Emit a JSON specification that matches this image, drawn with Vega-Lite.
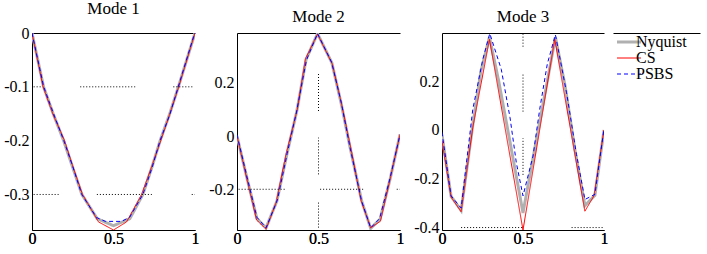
{
  "$schema": "https://vega.github.io/schema/vega-lite/v6.json",
  "padding": {"left": 3, "top": 0, "right": 2, "bottom": 2},
  "spacing": 42,
  "bounds": "flush",
  "datasets": {
    "curves": [
      {"m":1,"s":"Nyquist","x":0,"y":0},{"m":1,"s":"Nyquist","x":0.071,"y":-0.1},{"m":1,"s":"Nyquist","x":0.13,"y":-0.15},{"m":1,"s":"Nyquist","x":0.194,"y":-0.2},{"m":1,"s":"Nyquist","x":0.25,"y":-0.25},{"m":1,"s":"Nyquist","x":0.306,"y":-0.3},{"m":1,"s":"Nyquist","x":0.4,"y":-0.345},{"m":1,"s":"Nyquist","x":0.5,"y":-0.358},{"m":1,"s":"Nyquist","x":0.6,"y":-0.345},{"m":1,"s":"Nyquist","x":0.68,"y":-0.3},{"m":1,"s":"Nyquist","x":0.735,"y":-0.25},{"m":1,"s":"Nyquist","x":0.786,"y":-0.2},{"m":1,"s":"Nyquist","x":0.845,"y":-0.15},{"m":1,"s":"Nyquist","x":0.898,"y":-0.1},{"m":1,"s":"Nyquist","x":1,"y":0},
      {"m":1,"s":"CS","x":0,"y":0},{"m":1,"s":"CS","x":0.068,"y":-0.1},{"m":1,"s":"CS","x":0.13,"y":-0.152},{"m":1,"s":"CS","x":0.2,"y":-0.2},{"m":1,"s":"CS","x":0.255,"y":-0.252},{"m":1,"s":"CS","x":0.31,"y":-0.3},{"m":1,"s":"CS","x":0.408,"y":-0.351},{"m":1,"s":"CS","x":0.5,"y":-0.366},{"m":1,"s":"CS","x":0.58,"y":-0.351},{"m":1,"s":"CS","x":0.672,"y":-0.3},{"m":1,"s":"CS","x":0.73,"y":-0.252},{"m":1,"s":"CS","x":0.79,"y":-0.2},{"m":1,"s":"CS","x":0.848,"y":-0.148},{"m":1,"s":"CS","x":0.9,"y":-0.1},{"m":1,"s":"CS","x":1,"y":0},
      {"m":1,"s":"PSBS","x":0,"y":0},{"m":1,"s":"PSBS","x":0.072,"y":-0.1},{"m":1,"s":"PSBS","x":0.13,"y":-0.148},{"m":1,"s":"PSBS","x":0.195,"y":-0.2},{"m":1,"s":"PSBS","x":0.25,"y":-0.248},{"m":1,"s":"PSBS","x":0.305,"y":-0.3},{"m":1,"s":"PSBS","x":0.397,"y":-0.343},{"m":1,"s":"PSBS","x":0.45,"y":-0.35},{"m":1,"s":"PSBS","x":0.5,"y":-0.35},{"m":1,"s":"PSBS","x":0.55,"y":-0.35},{"m":1,"s":"PSBS","x":0.6,"y":-0.342},{"m":1,"s":"PSBS","x":0.68,"y":-0.3},{"m":1,"s":"PSBS","x":0.737,"y":-0.25},{"m":1,"s":"PSBS","x":0.785,"y":-0.2},{"m":1,"s":"PSBS","x":0.845,"y":-0.152},{"m":1,"s":"PSBS","x":0.897,"y":-0.1},{"m":1,"s":"PSBS","x":1,"y":0.002},

      {"m":2,"s":"Nyquist","x":0,"y":0},{"m":2,"s":"Nyquist","x":0.06,"y":-0.155},{"m":2,"s":"Nyquist","x":0.122,"y":-0.31},{"m":2,"s":"Nyquist","x":0.178,"y":-0.345},{"m":2,"s":"Nyquist","x":0.245,"y":-0.244},{"m":2,"s":"Nyquist","x":0.306,"y":-0.069},{"m":2,"s":"Nyquist","x":0.367,"y":0.094},{"m":2,"s":"Nyquist","x":0.424,"y":0.288},{"m":2,"s":"Nyquist","x":0.494,"y":0.385},{"m":2,"s":"Nyquist","x":0.582,"y":0.275},{"m":2,"s":"Nyquist","x":0.64,"y":0.12},{"m":2,"s":"Nyquist","x":0.694,"y":-0.044},{"m":2,"s":"Nyquist","x":0.765,"y":-0.244},{"m":2,"s":"Nyquist","x":0.82,"y":-0.347},{"m":2,"s":"Nyquist","x":0.878,"y":-0.312},{"m":2,"s":"Nyquist","x":0.94,"y":-0.16},{"m":2,"s":"Nyquist","x":1,"y":0.006},
      {"m":2,"s":"CS","x":0,"y":0},{"m":2,"s":"CS","x":0.06,"y":-0.16},{"m":2,"s":"CS","x":0.12,"y":-0.315},{"m":2,"s":"CS","x":0.178,"y":-0.35},{"m":2,"s":"CS","x":0.24,"y":-0.25},{"m":2,"s":"CS","x":0.3,"y":-0.07},{"m":2,"s":"CS","x":0.37,"y":0.1},{"m":2,"s":"CS","x":0.42,"y":0.29},{"m":2,"s":"CS","x":0.494,"y":0.383},{"m":2,"s":"CS","x":0.585,"y":0.27},{"m":2,"s":"CS","x":0.645,"y":0.11},{"m":2,"s":"CS","x":0.7,"y":-0.05},{"m":2,"s":"CS","x":0.76,"y":-0.24},{"m":2,"s":"CS","x":0.82,"y":-0.345},{"m":2,"s":"CS","x":0.88,"y":-0.32},{"m":2,"s":"CS","x":0.94,"y":-0.16},{"m":2,"s":"CS","x":1,"y":0.006},
      {"m":2,"s":"PSBS","x":0,"y":0.005},{"m":2,"s":"PSBS","x":0.06,"y":-0.15},{"m":2,"s":"PSBS","x":0.122,"y":-0.305},{"m":2,"s":"PSBS","x":0.178,"y":-0.345},{"m":2,"s":"PSBS","x":0.248,"y":-0.24},{"m":2,"s":"PSBS","x":0.308,"y":-0.065},{"m":2,"s":"PSBS","x":0.365,"y":0.09},{"m":2,"s":"PSBS","x":0.426,"y":0.285},{"m":2,"s":"PSBS","x":0.494,"y":0.385},{"m":2,"s":"PSBS","x":0.58,"y":0.278},{"m":2,"s":"PSBS","x":0.64,"y":0.125},{"m":2,"s":"PSBS","x":0.692,"y":-0.04},{"m":2,"s":"PSBS","x":0.765,"y":-0.245},{"m":2,"s":"PSBS","x":0.82,"y":-0.345},{"m":2,"s":"PSBS","x":0.875,"y":-0.31},{"m":2,"s":"PSBS","x":0.94,"y":-0.155},{"m":2,"s":"PSBS","x":1,"y":0.005},

      {"m":3,"s":"Nyquist","x":0,"y":-0.02},{"m":3,"s":"Nyquist","x":0.056,"y":-0.272},{"m":3,"s":"Nyquist","x":0.118,"y":-0.33},{"m":3,"s":"Nyquist","x":0.19,"y":0.02},{"m":3,"s":"Nyquist","x":0.24,"y":0.24},{"m":3,"s":"Nyquist","x":0.293,"y":0.38},{"m":3,"s":"Nyquist","x":0.35,"y":0.2},{"m":3,"s":"Nyquist","x":0.42,"y":-0.05},{"m":3,"s":"Nyquist","x":0.5,"y":-0.34},{"m":3,"s":"Nyquist","x":0.58,"y":-0.05},{"m":3,"s":"Nyquist","x":0.65,"y":0.2},{"m":3,"s":"Nyquist","x":0.7,"y":0.38},{"m":3,"s":"Nyquist","x":0.76,"y":0.18},{"m":3,"s":"Nyquist","x":0.82,"y":-0.08},{"m":3,"s":"Nyquist","x":0.882,"y":-0.31},{"m":3,"s":"Nyquist","x":0.944,"y":-0.268},{"m":3,"s":"Nyquist","x":1,"y":0},
      {"m":3,"s":"CS","x":0,"y":-0.045},{"m":3,"s":"CS","x":0.056,"y":-0.275},{"m":3,"s":"CS","x":0.118,"y":-0.335},{"m":3,"s":"CS","x":0.19,"y":0.01},{"m":3,"s":"CS","x":0.293,"y":0.371},{"m":3,"s":"CS","x":0.5,"y":-0.41},{"m":3,"s":"CS","x":0.696,"y":0.371},{"m":3,"s":"CS","x":0.882,"y":-0.333},{"m":3,"s":"CS","x":0.938,"y":-0.27},{"m":3,"s":"CS","x":1,"y":0},
      {"m":3,"s":"PSBS","x":0,"y":-0.01},{"m":3,"s":"PSBS","x":0.056,"y":-0.27},{"m":3,"s":"PSBS","x":0.118,"y":-0.32},{"m":3,"s":"PSBS","x":0.19,"y":0.084},{"m":3,"s":"PSBS","x":0.252,"y":0.289},{"m":3,"s":"PSBS","x":0.295,"y":0.395},{"m":3,"s":"PSBS","x":0.366,"y":0.248},{"m":3,"s":"PSBS","x":0.42,"y":0.05},{"m":3,"s":"PSBS","x":0.459,"y":-0.135},{"m":3,"s":"PSBS","x":0.5,"y":-0.27},{"m":3,"s":"PSBS","x":0.562,"y":-0.107},{"m":3,"s":"PSBS","x":0.603,"y":0.084},{"m":3,"s":"PSBS","x":0.65,"y":0.27},{"m":3,"s":"PSBS","x":0.7,"y":0.39},{"m":3,"s":"PSBS","x":0.769,"y":0.152},{"m":3,"s":"PSBS","x":0.83,"y":-0.1},{"m":3,"s":"PSBS","x":0.882,"y":-0.285},{"m":3,"s":"PSBS","x":0.944,"y":-0.264},{"m":3,"s":"PSBS","x":1,"y":0.005}
    ],
    "grid": [
      {"m":1,"x":0.01,"x2":0.06,"y":-0.1,"y2":-0.1},{"m":1,"x":0.296,"x2":0.633,"y":-0.1,"y2":-0.1},{"m":1,"x":0.867,"x2":0.99,"y":-0.1,"y2":-0.1},
      {"m":1,"x":0.01,"x2":0.163,"y":-0.3,"y2":-0.3},{"m":1,"x":0.398,"x2":0.735,"y":-0.3,"y2":-0.3},{"m":1,"x":0.98,"x2":1,"y":-0.3,"y2":-0.3},
      {"m":2,"x":0.5,"x2":0.5,"y":0.094,"y2":0.2375},{"m":2,"x":0.5,"x2":0.5,"y":-0.144,"y2":-0.006},{"m":2,"x":0.5,"x2":0.5,"y":-0.344,"y2":-0.244},
      {"m":2,"x":0.01,"x2":0.296,"y":-0.2,"y2":-0.2},{"m":2,"x":0.51,"x2":0.776,"y":-0.2,"y2":-0.2},{"m":2,"x":0.98,"x2":1,"y":-0.2,"y2":-0.2},
      {"m":3,"x":0.5,"x2":0.5,"y":0.341,"y2":0.396},{"m":3,"x":0.5,"x2":0.5,"y":0.075,"y2":0.232},{"m":3,"x":0.5,"x2":0.5,"y":-0.184,"y2":-0.034},
      {"m":3,"x":0.118,"x2":0.5,"y":-0.4,"y2":-0.4},{"m":3,"x":0.8,"x2":0.996,"y":-0.4,"y2":-0.4}
    ]
  },
  "hconcat": [
    {
      "width": 163, "height": 197,
      "title": "Mode 1",
      "resolve": {"axis": {"x": "independent"}},
      "layer": [
        {
          "data": {"name": "curves"},
          "transform": [{"filter": "datum.m == 1 && datum.s == 'Nyquist'"}],
          "mark": {"type": "line", "clip": true, "strokeWidth": 3},
          "encoding": {
            "x": {"field": "x", "type": "quantitative", "scale": {"domain": [0, 1], "nice": false}, "axis": {"orient": "bottom", "title": null, "labelFont": "Liberation Serif", "labelPadding": 0, "values": [0, 0.5, 1], "labelExpr": "'' + datum.value"}},
            "y": {"field": "y", "type": "quantitative", "scale": {"domain": [-0.366, 0], "nice": false, "zero": false}, "axis": {"title": null, "labelFont": "Liberation Serif", "values": [0, -0.1, -0.2, -0.3], "labelExpr": "'' + datum.value"}},
            "color": {"field": "s", "type": "nominal", "scale": {"domain": ["Nyquist", "CS", "PSBS"], "range": ["#b0b0b0", "#ff0000", "#0000ff"]}, "legend": {"title": null, "labelFont": "Liberation Serif", "encode": {"symbols": {"update": {"strokeWidth": {"signal": "datum.value == 'Nyquist' ? 3 : 1"}}}}}},
            "strokeDash": {"field": "s", "type": "nominal", "scale": {"domain": ["Nyquist", "CS", "PSBS"], "range": [[1, 0], [1, 0], [4, 3]]}, "legend": {"title": null, "labelFont": "Liberation Serif"}}
          }
        },
        {
          "data": {"name": "curves"},
          "transform": [{"filter": "datum.m == 1 && datum.s != 'Nyquist'"}],
          "mark": {"type": "line", "clip": true, "strokeWidth": 1},
          "encoding": {
            "x": {"field": "x", "type": "quantitative", "scale": {"domain": [0, 1], "nice": false}, "axis": {"orient": "bottom", "title": null, "labelFont": "Liberation Serif", "labelPadding": 0, "values": [0, 0.5, 1], "labelExpr": "'' + datum.value"}},
            "y": {"field": "y", "type": "quantitative", "scale": {"domain": [-0.366, 0], "nice": false, "zero": false}, "axis": {"title": null, "labelFont": "Liberation Serif", "values": [0, -0.1, -0.2, -0.3], "labelExpr": "'' + datum.value"}},
            "color": {"field": "s", "type": "nominal", "scale": {"domain": ["Nyquist", "CS", "PSBS"], "range": ["#b0b0b0", "#ff0000", "#0000ff"]}, "legend": {"title": null, "labelFont": "Liberation Serif", "encode": {"symbols": {"update": {"strokeWidth": {"signal": "datum.value == 'Nyquist' ? 3 : 1"}}}}}},
            "strokeDash": {"field": "s", "type": "nominal", "scale": {"domain": ["Nyquist", "CS", "PSBS"], "range": [[1, 0], [1, 0], [4, 3]]}, "legend": {"title": null, "labelFont": "Liberation Serif"}}
          }
        },
        {
          "data": {"name": "grid"},
          "transform": [{"filter": "datum.m == 1"}],
          "mark": {"type": "rule", "color": "black", "strokeDash": [1, 2], "strokeWidth": 1},
          "encoding": {
            "x": {"field": "x", "type": "quantitative", "axis": {"orient": "top", "labels": false, "ticks": false, "grid": false, "domain": true, "title": null}},
            "x2": {"field": "x2"},
            "y": {"field": "y", "type": "quantitative", "axis": {"title": null, "labelFont": "Liberation Serif", "values": [0, -0.1, -0.2, -0.3], "labelExpr": "'' + datum.value"}},
            "y2": {"field": "y2"}
          }
        }
      ]
    },
    {
      "width": 163, "height": 197,
      "title": "Mode 2",
      "resolve": {"axis": {"x": "independent"}},
      "layer": [
        {
          "data": {"name": "curves"},
          "transform": [{"filter": "datum.m == 2 && datum.s == 'Nyquist'"}],
          "mark": {"type": "line", "clip": true, "strokeWidth": 3},
          "encoding": {
            "x": {"field": "x", "type": "quantitative", "scale": {"domain": [0, 1], "nice": false}, "axis": {"orient": "bottom", "title": null, "labelFont": "Liberation Serif", "labelPadding": 0, "values": [0, 0.5, 1], "labelExpr": "'' + datum.value"}},
            "y": {"field": "y", "type": "quantitative", "scale": {"domain": [-0.353, 0.387], "nice": false, "zero": false}, "axis": {"title": null, "labelFont": "Liberation Serif", "values": [0.2, 0, -0.2], "labelExpr": "'' + datum.value"}},
            "color": {"field": "s", "type": "nominal", "scale": {"domain": ["Nyquist", "CS", "PSBS"], "range": ["#b0b0b0", "#ff0000", "#0000ff"]}, "legend": {"title": null, "labelFont": "Liberation Serif", "encode": {"symbols": {"update": {"strokeWidth": {"signal": "datum.value == 'Nyquist' ? 3 : 1"}}}}}},
            "strokeDash": {"field": "s", "type": "nominal", "scale": {"domain": ["Nyquist", "CS", "PSBS"], "range": [[1, 0], [1, 0], [4, 3]]}, "legend": {"title": null, "labelFont": "Liberation Serif"}}
          }
        },
        {
          "data": {"name": "curves"},
          "transform": [{"filter": "datum.m == 2 && datum.s != 'Nyquist'"}],
          "mark": {"type": "line", "clip": true, "strokeWidth": 1},
          "encoding": {
            "x": {"field": "x", "type": "quantitative", "scale": {"domain": [0, 1], "nice": false}, "axis": {"orient": "bottom", "title": null, "labelFont": "Liberation Serif", "labelPadding": 0, "values": [0, 0.5, 1], "labelExpr": "'' + datum.value"}},
            "y": {"field": "y", "type": "quantitative", "scale": {"domain": [-0.353, 0.387], "nice": false, "zero": false}, "axis": {"title": null, "labelFont": "Liberation Serif", "values": [0.2, 0, -0.2], "labelExpr": "'' + datum.value"}},
            "color": {"field": "s", "type": "nominal", "scale": {"domain": ["Nyquist", "CS", "PSBS"], "range": ["#b0b0b0", "#ff0000", "#0000ff"]}, "legend": {"title": null, "labelFont": "Liberation Serif", "encode": {"symbols": {"update": {"strokeWidth": {"signal": "datum.value == 'Nyquist' ? 3 : 1"}}}}}},
            "strokeDash": {"field": "s", "type": "nominal", "scale": {"domain": ["Nyquist", "CS", "PSBS"], "range": [[1, 0], [1, 0], [4, 3]]}, "legend": {"title": null, "labelFont": "Liberation Serif"}}
          }
        },
        {
          "data": {"name": "grid"},
          "transform": [{"filter": "datum.m == 2"}],
          "mark": {"type": "rule", "color": "black", "strokeDash": [1, 2], "strokeWidth": 1},
          "encoding": {
            "x": {"field": "x", "type": "quantitative", "axis": {"orient": "top", "labels": false, "ticks": false, "grid": false, "domain": true, "title": null}},
            "x2": {"field": "x2"},
            "y": {"field": "y", "type": "quantitative", "axis": {"title": null, "labelFont": "Liberation Serif", "values": [0.2, 0, -0.2], "labelExpr": "'' + datum.value"}},
            "y2": {"field": "y2"}
          }
        }
      ]
    },
    {
      "spacing": 9,
      "bounds": "flush",
      "hconcat": [
        {
          "width": 162, "height": 197,
          "title": "Mode 3",
          "resolve": {"axis": {"x": "independent"}},
          "layer": [
            {
              "data": {"name": "curves"},
              "transform": [{"filter": "datum.m == 3 && datum.s == 'Nyquist'"}],
              "mark": {"type": "line", "clip": true, "strokeWidth": 3},
              "encoding": {
                "x": {"field": "x", "type": "quantitative", "scale": {"domain": [0, 1], "nice": false}, "axis": {"orient": "bottom", "title": null, "labelFont": "Liberation Serif", "labelPadding": 0, "values": [0, 0.5, 1], "labelExpr": "'' + datum.value"}},
                "y": {"field": "y", "type": "quantitative", "scale": {"domain": [-0.41, 0.397], "nice": false, "zero": false}, "axis": {"title": null, "labelFont": "Liberation Serif", "values": [0.2, 0, -0.2, -0.4], "labelExpr": "'' + datum.value"}},
                "color": {"field": "s", "type": "nominal", "scale": {"domain": ["Nyquist", "CS", "PSBS"], "range": ["#b0b0b0", "#ff0000", "#0000ff"]}, "legend": {"title": null, "labelFont": "Liberation Serif", "encode": {"symbols": {"update": {"strokeWidth": {"signal": "datum.value == 'Nyquist' ? 3 : 1"}}}}}},
                "strokeDash": {"field": "s", "type": "nominal", "scale": {"domain": ["Nyquist", "CS", "PSBS"], "range": [[1, 0], [1, 0], [4, 3]]}, "legend": {"title": null, "labelFont": "Liberation Serif"}}
              }
            },
            {
              "data": {"name": "curves"},
              "transform": [{"filter": "datum.m == 3 && datum.s != 'Nyquist'"}],
              "mark": {"type": "line", "clip": true, "strokeWidth": 1},
              "encoding": {
                "x": {"field": "x", "type": "quantitative", "scale": {"domain": [0, 1], "nice": false}, "axis": {"orient": "bottom", "title": null, "labelFont": "Liberation Serif", "labelPadding": 0, "values": [0, 0.5, 1], "labelExpr": "'' + datum.value"}},
                "y": {"field": "y", "type": "quantitative", "scale": {"domain": [-0.41, 0.397], "nice": false, "zero": false}, "axis": {"title": null, "labelFont": "Liberation Serif", "values": [0.2, 0, -0.2, -0.4], "labelExpr": "'' + datum.value"}},
                "color": {"field": "s", "type": "nominal", "scale": {"domain": ["Nyquist", "CS", "PSBS"], "range": ["#b0b0b0", "#ff0000", "#0000ff"]}, "legend": {"title": null, "labelFont": "Liberation Serif", "encode": {"symbols": {"update": {"strokeWidth": {"signal": "datum.value == 'Nyquist' ? 3 : 1"}}}}}},
                "strokeDash": {"field": "s", "type": "nominal", "scale": {"domain": ["Nyquist", "CS", "PSBS"], "range": [[1, 0], [1, 0], [4, 3]]}, "legend": {"title": null, "labelFont": "Liberation Serif"}}
              }
            },
            {
              "data": {"name": "grid"},
              "transform": [{"filter": "datum.m == 3"}],
              "mark": {"type": "rule", "color": "black", "strokeDash": [1, 2], "strokeWidth": 1},
              "encoding": {
                "x": {"field": "x", "type": "quantitative", "axis": {"orient": "top", "labels": false, "ticks": false, "grid": false, "domain": true, "title": null}},
                "x2": {"field": "x2"},
                "y": {"field": "y", "type": "quantitative", "axis": {"title": null, "labelFont": "Liberation Serif", "values": [0.2, 0, -0.2, -0.4], "labelExpr": "'' + datum.value"}},
                "y2": {"field": "y2"}
              }
            }
          ]
        },
        {
          "width": 87, "height": 197,
          "data": {"name": "grid"},
          "transform": [{"filter": "datum.m == 0"}],
          "mark": {"type": "rule", "color": "black"},
          "encoding": {
            "x": {"field": "x", "type": "quantitative", "scale": {"domain": [0, 1], "nice": false}, "axis": {"orient": "top", "labels": false, "ticks": false, "grid": false, "domain": true, "title": null}}
          }
        }
      ]
    }
  ],
  "config": {
    "font": "Liberation Serif",
    "view": {"stroke": null},
    "axis": {"labelFont": "Liberation Serif", "labelFontSize": 16, "labelColor": "black", "domainColor": "black", "domainWidth": 1, "ticks": false, "grid": false, "labelPadding": 3, "labelFlush": false, "labelOverlap": false},
    "title": {"font": "Liberation Serif", "fontSize": 17, "fontWeight": "normal", "color": "black", "offset": 7},
    "legend": {"orient": "none", "legendX": 589, "legendY": 1, "labelFont": "Liberation Serif", "labelFontSize": 16, "labelColor": "black", "symbolType": "stroke", "symbolSize": 576, "symbolStrokeWidth": 1, "rowPadding": -7, "padding": 0, "labelOffset": -1}
  }
}
